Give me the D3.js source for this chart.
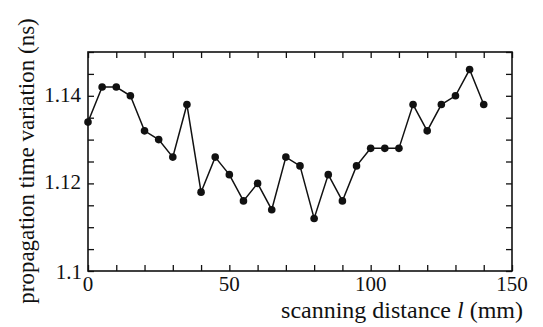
<!DOCTYPE html>
<html>
<head>
<meta charset="utf-8">
<script src="https://cdn.jsdelivr.net/npm/d3@7"></script>
<style>
  body { margin: 0; background: #fff; }
  svg text { font-family: "Liberation Serif", "Times New Roman", serif; fill: #111; }
</style>
</head>
<body>
<svg id="chart" width="543" height="327"></svg>
<script>
// scanning distance (mm) and propagation time variation (ns)
let distance = [0, 5, 10, 15, 20, 25, 30, 35, 40, 45, 50, 55, 60, 65, 70,
    75, 80, 85, 90, 95, 100, 105, 110, 115, 120, 125, 130, 135, 140]
let timeVar = [1.134, 1.142, 1.142, 1.140, 1.132, 1.130, 1.126, 1.138, 1.118, 1.126,
    1.122, 1.116, 1.120, 1.114, 1.126, 1.124, 1.112, 1.122, 1.116, 1.124,
    1.128, 1.128, 1.128, 1.138, 1.132, 1.138, 1.140, 1.146, 1.138]
let xTicks = [0, 50, 100, 150]
let yTicks = [1.1, 1.12, 1.14]

let data = distance.map((d, i) => ({ x: d, y: timeVar[i] }))

let chart = d3.select('#chart')
let plotLeft = 88, plotRight = 512, plotTop = 52, plotBottom = 271

let xScale = d3.scaleLinear().domain([0, 150]).range([plotLeft, plotRight])
let yScale = d3.scaleLinear().domain([1.1, 1.15]).range([plotBottom, plotTop])

let xMinor = d3.range(0, 151, 10)
let yMinor = d3.range(0, 11).map((i) => 1.1 + i * 0.005)

// ticks pointing inwards, on all four sides
chart.append('g').attr('transform', 'translate(0,' + plotBottom + ')')
    .call(d3.axisBottom(xScale).tickValues(xMinor).tickSize(-6).tickFormat(''))
chart.append('g').attr('transform', 'translate(0,' + plotTop + ')')
    .call(d3.axisTop(xScale).tickValues(xMinor).tickSize(-6).tickFormat(''))
chart.append('g').attr('transform', 'translate(' + plotLeft + ',0)')
    .call(d3.axisLeft(yScale).tickValues(yMinor).tickSize(-6).tickFormat(''))
chart.append('g').attr('transform', 'translate(' + plotRight + ',0)')
    .call(d3.axisRight(yScale).tickValues(yMinor).tickSize(-6).tickFormat(''))

chart.selectAll('.domain').remove()
chart.selectAll('.tick line').attr('stroke', '#111').attr('stroke-width', 1.3)

// frame
chart.append('rect')
    .attr('x', plotLeft).attr('y', plotTop)
    .attr('width', plotRight - plotLeft).attr('height', plotBottom - plotTop)
    .attr('fill', 'none').attr('stroke', '#111').attr('stroke-width', 1.6)

// tick labels
chart.append('g').selectAll('text')
    .data(xTicks).enter().append('text')
    .attr('x', (d) => xScale(d))
    .attr('y', plotBottom + 20)
    .attr('text-anchor', 'middle')
    .attr('font-size', 21)
    .text((d) => d)

chart.append('g').selectAll('text')
    .data(yTicks).enter().append('text')
    .attr('x', (d) => d == 1.1 ? plotLeft - 6 : plotLeft - 7)
    .attr('y', (d) => d == 1.1 ? yScale(d) + 8 : yScale(d) + 6)
    .attr('text-anchor', 'end')
    .attr('font-size', 21)
    .text((d) => d3.format('.2~f')(d))

// axis titles
let xt = chart.append('text')
    .attr('x', 523).attr('y', 318)
    .attr('text-anchor', 'end')
    .attr('font-size', 24)
xt.append('tspan').text('scanning distance ')
xt.append('tspan').attr('font-style', 'italic').text('l')
xt.append('tspan').text(' (mm)')

chart.append('text')
    .attr('transform', 'translate(34,161) rotate(-90)')
    .attr('text-anchor', 'middle')
    .attr('font-size', 23)
    .text('propagation time variation (ns)')

// line and points
let line = d3.line().x((d) => xScale(d.x)).y((d) => yScale(d.y))
chart.append('path')
    .datum(data)
    .attr('d', line)
    .attr('fill', 'none')
    .attr('stroke', '#111')
    .attr('stroke-width', 1.5)

chart.append('g').selectAll('circle')
    .data(data).enter().append('circle')
    .attr('cx', (d) => xScale(d.x))
    .attr('cy', (d) => yScale(d.y))
    .attr('r', 3.8)
    .attr('fill', '#111')
</script>
</body>
</html>
